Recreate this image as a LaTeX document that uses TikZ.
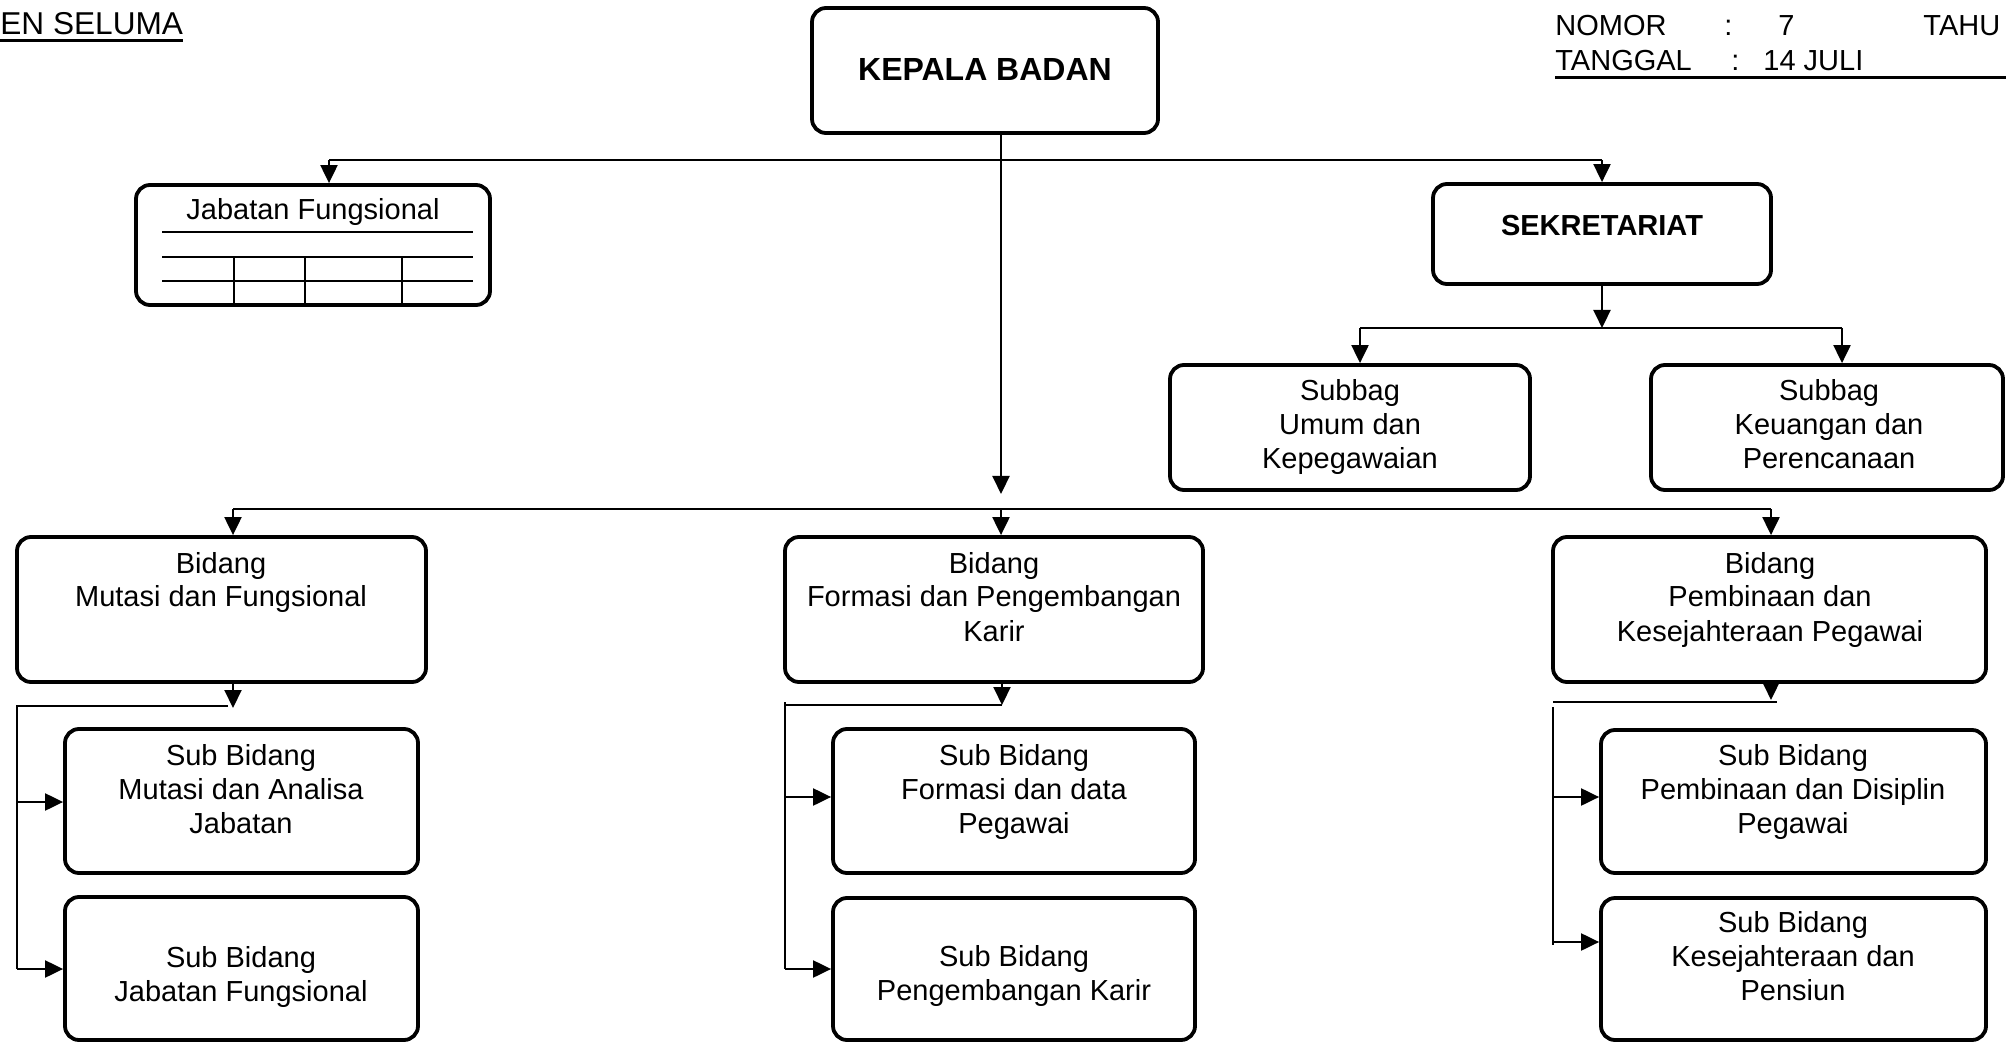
\documentclass[tikz,border=0pt]{standalone}
\usepackage{fontspec}
\setmainfont{Liberation Sans}
\usetikzlibrary{arrows.meta,fit}
\newcommand{\mlines}[1]{\begin{tabular}[t]{@{}c@{}}#1\end{tabular}}
\begin{document}
\begin{tikzpicture}[x=0.5pt,y=-0.5pt,
  box/.style={draw, line width=1.9pt, rounded corners=7pt, inner sep=0pt},
  txt/.style={font=\fontsize{14.5}{17}\selectfont, inner sep=0pt, anchor=base},
  btxt/.style={font=\fontsize{14.5}{17}\selectfont\bfseries, inner sep=0pt, anchor=base},
  conn/.style={line width=1.05pt},
  arr/.style={conn, -{Triangle[length=9pt,width=8.5pt]}},
  thinline/.style={line width=0.65pt},
  uline/.style={line width=1.5pt}]
\useasboundingbox (0,0) rectangle (2006,1042);
\clip (0,0) rectangle (2006,1042);

% header texts
\node[txt, anchor=base west, font=\fontsize{15.8}{19}\selectfont] (hdr) at (0,35) {EN SELUMA};
\draw[uline] ([yshift=-3pt]hdr.base west) -- ([yshift=-3pt]hdr.base east);
\node[txt, anchor=base west] (nomor) at (1555,36) {NOMOR};
\node[txt, anchor=base west] (ncol) at (1724,36) {:};
\node[txt, anchor=base west] (nval) at (1778,36) {7};
\node[txt, anchor=base west] (tahu) at (1923,36) {TAHU};
\node[txt, anchor=base west] (tgl) at (1555,71) {TANGGAL};
\node[txt, anchor=base west] (tcol) at (1731,71) {:};
\node[txt, anchor=base west] (tval) at (1763,71) {14 JULI};
\coordinate (ul1) at (1555,78);
\coordinate (ul2) at (2006,78);
\draw[uline] (ul1) -- (ul2);

% boxes
\node[box, fit={(812,8) (1158,133)}] (kb) {};
\node[btxt, font=\fontsize{16}{19}\selectfont\bfseries] (kbt) at (985,81) {KEPALA BADAN};

\node[box, fit={(136,185) (490,305)}] (jf) {};
\node[txt] (jft) at (313,220) {Jabatan Fungsional};
\draw[thinline] (162,232) -- (473,232);
\draw[thinline] (162,257) -- (473,257);
\draw[thinline] (162,281) -- (473,281);
\draw[thinline] (234,257) -- (234,305);
\draw[thinline] (305,257) -- (305,305);
\draw[thinline] (402,257) -- (402,305);

\node[box, fit={(1433,184) (1771,284)}] (sk) {};
\node[btxt] (skt) at (1602,236) {SEKRETARIAT};

\node[box, fit={(1170,365) (1530,490)}] (su) {};
\node[txt] (sut) at (1350,401) {\mlines{Subbag\\Umum dan\\Kepegawaian}};
\node[box, fit={(1651,365) (2003,490)}] (sg) {};
\node[txt] (sgt) at (1829,401) {\mlines{Subbag\\Keuangan dan\\Perencanaan}};

\node[box, fit={(17,537) (426,682)}] (bm) {};
\node[txt] (bmt) at (221,573) {\mlines{Bidang\\Mutasi dan Fungsional}};
\node[box, fit={(785,537) (1203,682)}] (bf) {};
\node[txt] (bft) at (994,573) {\mlines{Bidang\\Formasi dan Pengembangan\\Karir}};
\node[box, fit={(1553,537) (1986,682)}] (bp) {};
\node[txt] (bpt) at (1770,573) {\mlines{Bidang\\Pembinaan dan\\Kesejahteraan Pegawai}};

\node[box, fit={(65,729) (418,873)}] (sa1) {};
\node[txt] (sa1t) at (241,765) {\mlines{Sub Bidang\\Mutasi dan Analisa\\Jabatan}};
\node[box, fit={(65,897) (418,1040)}] (sa2) {};
\node[txt] (sa2t) at (241,967) {\mlines{Sub Bidang\\Jabatan Fungsional}};

\node[box, fit={(833,729) (1195,873)}] (sb1) {};
\node[txt] (sb1t) at (1014,765) {\mlines{Sub Bidang\\Formasi dan data\\Pegawai}};
\node[box, fit={(833,898) (1195,1040)}] (sb2) {};
\node[txt] (sb2t) at (1014,966) {\mlines{Sub Bidang\\Pengembangan Karir}};

\node[box, fit={(1601,730) (1986,873)}] (sc1) {};
\node[txt] (sc1t) at (1793,765) {\mlines{Sub Bidang\\Pembinaan dan Disiplin\\Pegawai}};
\node[box, fit={(1601,898) (1986,1040)}] (sc2) {};
\node[txt] (sc2t) at (1793,932) {\mlines{Sub Bidang\\Kesejahteraan dan\\Pensiun}};

% connectors: top level
\coordinate (mt) at (1001,494);
\draw[arr] (kb.south -| mt) -- (mt);
\coordinate (ja) at (329,160);
\coordinate (jb) at (1602,160);
\draw[conn] (ja) -- (jb);
\draw[arr] (ja) -- (jf.north -| ja);
\draw[arr] (jb) -- (sk.north -| jb);

% sekretariat
\coordinate (sj) at (1602,328);
\draw[arr] (sk.south) -- (sj);
\coordinate (sa) at (1360,328);
\coordinate (sb) at (1842,328);
\draw[conn] (sa) -- (sb);
\draw[arr] (sa) -- (su.north -| sa);
\draw[arr] (sb) -- (sg.north -| sb);

% bidang row
\coordinate (ba) at (233,509);
\coordinate (bb) at (1001,509);
\coordinate (bc) at (1771,509);
\draw[conn] (ba) -- (bc);
\draw[arr] (ba) -- (bm.north -| ba);
\draw[arr] (bb) -- (bf.north -| bb);
\draw[arr] (bc) -- (bp.north -| bc);

% left column
\coordinate (la) at (233,708);
\coordinate (lb) at (17,706);
\coordinate (lc) at (228,706);
\coordinate (ld) at (17,802);
\coordinate (le) at (17,969);
\draw[arr] (bm.south -| la) -- (la);
\draw[conn] (lc) -- (lb) -- (le);
\draw[arr] (ld) -- (ld -| sa1.west);
\draw[arr] (le) -- (le -| sa2.west);

% middle column
\coordinate (ma) at (1002,705);
\coordinate (mb) at (785,705);
\coordinate (mf) at (785,702);
\coordinate (md) at (785,797);
\coordinate (me) at (785,969);
\draw[arr] (bf.south -| ma) -- (ma);
\draw[conn] (ma) -- (mb);
\draw[conn] (mf) -- (me);
\draw[arr] (md) -- (md -| sb1.west);
\draw[arr] (me) -- (me -| sb2.west);

% right column
\coordinate (ra) at (1771,700);
\coordinate (rb) at (1553,702);
\coordinate (rc) at (1777,702);
\coordinate (rf) at (1553,707);
\coordinate (rd) at (1553,797);
\coordinate (rg) at (1553,942);
\coordinate (re) at (1553,945);
\draw[arr] (bp.south -| ra) -- (ra);
\draw[conn] (rb) -- (rc);
\draw[conn] (rf) -- (re);
\draw[arr] (rd) -- (rd -| sc1.west);
\draw[arr] (rg) -- (rg -| sc2.west);
\end{tikzpicture}
\end{document}
